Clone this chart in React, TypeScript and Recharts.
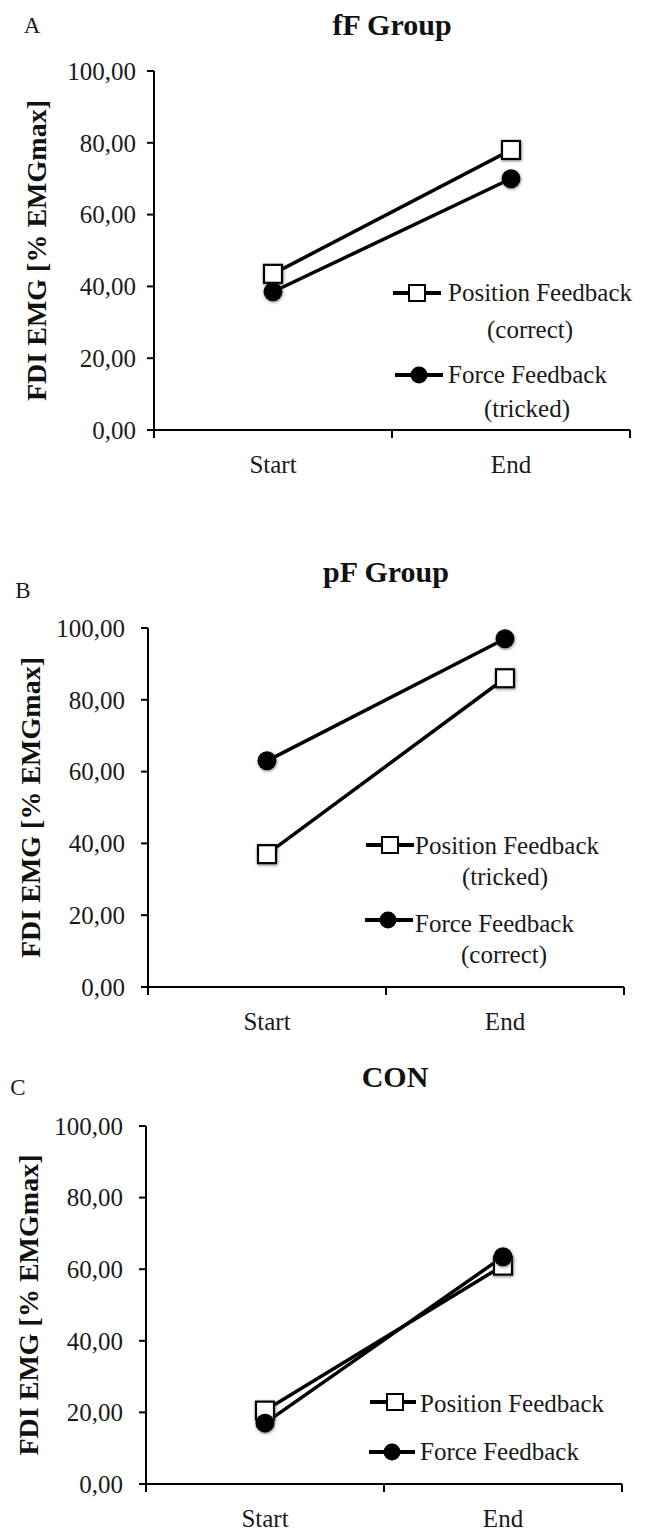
import React from 'react';
import { LineChart, Line, XAxis, YAxis, Legend } from 'recharts';

// values (% EMGmax)
const categories = ['Start', 'End'];
const yTicks = [0, 20, 40, 60, 80, 100];

const fFPosition = [43.5, 78];
const fFForce = [38.5, 70];
const pFPosition = [37, 86];
const pFForce = [63, 97];
const conPosition = [20.5, 61];
const conForce = [17, 63.5];

const fFLegend = [['Position Feedback', '(correct)'], ['Force Feedback', '(tricked)']];
const pFLegend = [['Position Feedback', '(tricked)'], ['Force Feedback', '(correct)']];
const conLegend = [['Position Feedback'], ['Force Feedback']];

const FONT = '"Liberation Serif", "Times New Roman", serif';
const W = 654;

const buildData = (pos: number[], force: number[]) =>
  categories.map((c, i) => ({ x: i + 0.5, name: c, position: pos[i], force: force[i] }));

const fmt = (v: number) => v.toFixed(2).replace('.', ',');

const SquareDot = (props: any) => {
  const { cx, cy, index } = props;
  if (cx == null || cy == null) return null;
  return (
    <rect key={`sq-${index}`} x={cx - 9} y={cy - 9} width={18} height={18}
      fill="#fff" stroke="#000" strokeWidth={2.2} filter="url(#markerShadow)" />
  );
};

const CircleDot = (props: any) => {
  const { cx, cy, index } = props;
  if (cx == null || cy == null) return null;
  return <circle key={`ci-${index}`} cx={cx} cy={cy} r={9.5} fill="#000" filter="url(#markerShadow)" />;
};

const CategoryTick = (props: any) => {
  const { x, y, payload } = props;
  const v = payload.value;
  if (Number.isInteger(v)) {
    return <line x1={x} x2={x} y1={y - 8} y2={y} stroke="#000" strokeWidth={2} />;
  }
  return (
    <text x={x} y={y + 35} textAnchor="middle" fontFamily={FONT} fontSize={25} fill="#1a1a1a">
      {categories[Math.floor(v)]}
    </text>
  );
};

const YLabel = ({ labelX, labelY }: any) => (
  <text x={labelX} y={labelY} transform={`rotate(-90 ${labelX} ${labelY})`} textAnchor="middle"
    dominantBaseline="central" fontFamily={FONT} fontWeight="bold" fontSize={28} fill="#111">
    FDI EMG [% EMGmax]
  </text>
);

type LegendItem = { shape: 'square' | 'circle'; mx: number; my: number; x1: number; x2: number; tx: number; ty: number; sx?: number; sy?: number };

const makeLegend = (items: LegendItem[], texts: string[][], height: number) => () => (
  <svg width={W} height={height} style={{ overflow: 'visible', display: 'block' }}>
    {items.map((it, i) => (
      <g key={i}>
        <line x1={it.x1} x2={it.x2} y1={it.my} y2={it.my} stroke="#000" strokeWidth={4} />
        {it.shape === 'square' ? (
          <rect x={it.mx - 8} y={it.my - 8} width={16} height={16} fill="#fff" stroke="#000" strokeWidth={2} />
        ) : (
          <circle cx={it.mx} cy={it.my} r={8.5} fill="#000" />
        )}
        <text x={it.tx} y={it.ty} fontFamily={FONT} fontSize={25} fill="#1a1a1a">{texts[i][0]}</text>
        {texts[i][1] && (
          <text x={it.sx} y={it.sy} textAnchor="middle" fontFamily={FONT} fontSize={25} fill="#1a1a1a">{texts[i][1]}</text>
        )}
      </g>
    ))}
  </svg>
);

const panels = [
  {
    top: 0, height: 515, letter: 'A', letterX: 32, letterY: 33, title: 'fF Group', titleX: 392, titleY: 35,
    plotTop: 71, plotBottom: 430, plotLeft: 154, plotRight: 630, tickGap: 11, yLabelX: 36,
    pos: fFPosition, force: fFForce, texts: fFLegend,
    legend: [
      { shape: 'square', mx: 417, my: 293, x1: 393, x2: 441, tx: 448, ty: 301, sx: 530, sy: 338 },
      { shape: 'circle', mx: 419, my: 375, x1: 395, x2: 443, tx: 448, ty: 383, sx: 527, sy: 417 },
    ] as LegendItem[],
  },
  {
    top: 520, height: 525, letter: 'B', letterX: 23, letterY: 78, title: 'pF Group', titleX: 386, titleY: 62,
    plotTop: 108, plotBottom: 467, plotLeft: 148, plotRight: 624, tickGap: 16, yLabelX: 30,
    pos: pFPosition, force: pFForce, texts: pFLegend,
    legend: [
      { shape: 'square', mx: 390, my: 325, x1: 366, x2: 414, tx: 415, ty: 334, sx: 505, sy: 365 },
      { shape: 'circle', mx: 388, my: 400, x1: 365, x2: 413, tx: 415, ty: 412, sx: 504, sy: 443 },
    ] as LegendItem[],
  },
  {
    top: 1030, height: 502, letter: 'C', letterX: 18, letterY: 65, title: 'CON', titleX: 395, titleY: 57,
    plotTop: 96, plotBottom: 454, plotLeft: 146, plotRight: 622, tickGap: 16, yLabelX: 28,
    pos: conPosition, force: conForce, texts: conLegend,
    legend: [
      { shape: 'square', mx: 395, my: 372, x1: 370, x2: 416, tx: 420, ty: 382 },
      { shape: 'circle', mx: 392, my: 422, x1: 369, x2: 415, tx: 420, ty: 430 },
    ] as LegendItem[],
  },
];

function Panel({ p }: { p: (typeof panels)[number] }) {
  const data = buildData(p.pos, p.force);
  return (
    <div style={{ position: 'absolute', left: 0, top: p.top, width: W, height: p.height }}>
      <LineChart width={W} height={p.height} data={data}
        margin={{ top: p.plotTop, right: W - p.plotRight, bottom: 0, left: 0 }}>
        <XAxis dataKey="x" type="number" domain={[0, 2]} ticks={[0, 0.5, 1, 1.5, 2]} interval={0}
          height={p.height - p.plotBottom} tickLine={false} tickSize={8} tickMargin={0}
          axisLine={{ stroke: '#000', strokeWidth: 2 }} tick={<CategoryTick />} />
        <YAxis type="number" domain={[0, 100]} ticks={yTicks} interval={0} width={p.plotLeft}
          tickFormatter={fmt} tickSize={7} tickMargin={p.tickGap}
          axisLine={{ stroke: '#000', strokeWidth: 2 }} tickLine={{ stroke: '#000', strokeWidth: 2 }}
          tick={{ fontFamily: FONT, fontSize: 25, fill: '#1a1a1a' }}
          label={<YLabel labelX={p.yLabelX} labelY={(p.plotTop + p.plotBottom) / 2} />} />
        <Line dataKey="position" name={p.texts[0][0]} stroke="#000" strokeWidth={3.5}
          dot={SquareDot} activeDot={false} isAnimationActive={false} />
        <Line dataKey="force" name={p.texts[1][0]} stroke="#000" strokeWidth={3.5}
          dot={CircleDot} activeDot={false} isAnimationActive={false} />
        <Legend layout="vertical" align="center" verticalAlign="middle"
          wrapperStyle={{ left: 0, top: 0, width: W, height: p.height, pointerEvents: 'none' }}
          content={makeLegend(p.legend, p.texts, p.height)} />
      </LineChart>
      <svg width={W} height={110} style={{ position: 'absolute', left: 0, top: 0, pointerEvents: 'none' }}>
        <text x={p.letterX} y={p.letterY} textAnchor="middle" fontFamily={FONT} fontSize={23} fill="#1a1a1a">{p.letter}</text>
        <text x={p.titleX} y={p.titleY} textAnchor="middle" fontFamily={FONT} fontWeight="bold" fontSize={30} fill="#111">{p.title}</text>
      </svg>
    </div>
  );
}

export default function App() {
  return (
    <div style={{ position: 'absolute', left: 0, top: 0, width: W, height: 1532, background: '#fff' }}>
      <svg width={0} height={0} style={{ position: 'absolute' }}>
        <defs>
          <filter id="markerShadow" x="-50%" y="-50%" width="200%" height="200%">
            <feDropShadow dx={0.5} dy={1} stdDeviation={1.6} floodColor="#555" floodOpacity={0.75} />
          </filter>
        </defs>
      </svg>
      {panels.map((p) => <Panel key={p.letter} p={p} />)}
    </div>
  );
}
